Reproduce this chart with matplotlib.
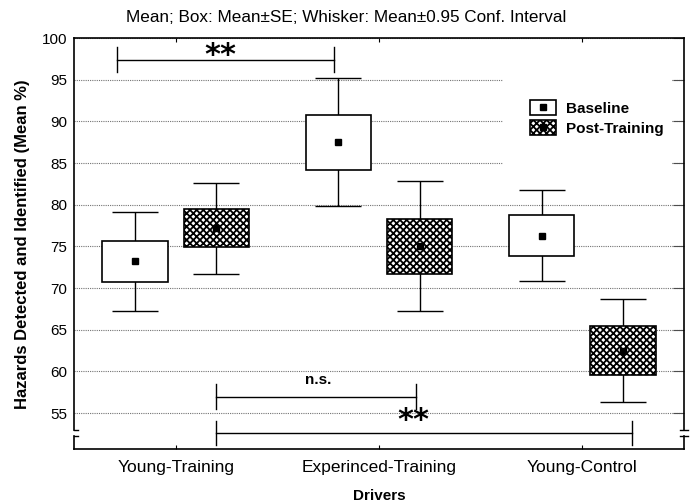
import numpy as np
import matplotlib
matplotlib.use("Agg")
import matplotlib.pyplot as plt
from matplotlib.patches import Rectangle
from matplotlib.lines import Line2D

plt.rcParams['font.family'] = ['Liberation Sans', 'DejaVu Sans']
plt.rcParams['hatch.linewidth'] = 1.3

#######################################################
GROUPS = ['Young-Training', 'Experinced-Training', 'Young-Control']
SERIES = ['Baseline', 'Post-Training']
BASE_MEAN = [73.2, 87.5, 76.3]
BASE_SE = [2.45, 3.3, 2.5]
BASE_CI = [5.95, 7.7, 5.5]
POST_MEAN = [77.2, 75.0, 62.5]
POST_SE = [2.25, 3.3, 2.95]
POST_CI = [5.45, 7.8, 6.2]

# significance brackets: (x0, x1, y, tick_top, tick_bottom, label, label_x, label_y)
BRACKETS = [
    (-0.29, 0.78, 97.36, 98.96, 95.96, '**', 0.22, 97.85),
    (0.20, 1.18, 56.96, 58.48, 55.44, 'n.s.', 0.70, 58.1),
    (0.20, 2.245, 52.64, 54.07, 51.16, '**', 1.17, 54.1),
]
YTICKS = [55, 60, 65, 70, 75, 80, 85, 90, 95, 100]
YLIM = (50.7, 100)
BREAK = (52.25, 53.0)
#######################################################

OFFSET = 0.2
BOX_W = 0.32

fig = plt.figure(figsize=(6.93, 5.04), dpi=100)
ax = fig.add_axes([74 / 693, 55 / 504, 610 / 693, 411 / 504])

x = np.arange(len(GROUPS))
series = [(BASE_MEAN, BASE_SE, BASE_CI, None, -OFFSET),
          (POST_MEAN, POST_SE, POST_CI, 'xxxxx', OFFSET)]

handles = []
for (mean, se, ci, hatch, off), name in zip(series, SERIES):
    mean = np.array(mean)
    se = np.array(se)
    ci = np.array(ci)
    pos = x + off
    ax.errorbar(pos, mean, yerr=ci, fmt='none', ecolor='black', elinewidth=1.0,
                capsize=16.5, capthick=1.0, zorder=2)
    ax.bar(pos, 2 * se, bottom=mean - se, width=BOX_W, facecolor='white',
           edgecolor='black', linewidth=1.2, hatch=hatch, zorder=3)
    ax.plot(pos, mean, linestyle='none', marker='s', markersize=5,
            color='black', zorder=4)
    patch = Rectangle((0, 0), 1, 1, facecolor='white', edgecolor='black',
                      linewidth=1.2, hatch=hatch)
    mark = Line2D([], [], linestyle='none', marker='s', markersize=5, color='black')
    handles.append((patch, mark))

# brackets
for x0, x1, y, t_top, t_bot, label, lx, ly in BRACKETS:
    ax.plot([x0, x1], [y, y], color='black', lw=1.0, zorder=5)
    ax.plot([x0, x0], [t_bot, t_top], color='black', lw=1.0, zorder=5)
    ax.plot([x1, x1], [t_bot, t_top], color='black', lw=1.0, zorder=5)
    if label == '**':
        ax.text(lx, ly, label, ha='center', va='center', fontsize=22,
                fontweight='bold', family='DejaVu Sans', zorder=6)
    else:
        ax.text(lx, ly, label, ha='center', va='bottom', fontsize=11,
                fontweight='bold', zorder=6)

ax.set_xlim(-0.5, 2.5)
ax.set_ylim(*YLIM)
ax.set_yticks(YTICKS)
ax.set_xticks(x)
ax.set_xticklabels(GROUPS, fontsize=12.5)
ax.tick_params(axis='y', labelsize=11, left=False, right=True, direction='in',
               length=8, color='0.3', pad=5)
ax.tick_params(axis='x', top=True, direction='in', length=3, pad=8)
ax.set_axisbelow(True)
ax.yaxis.grid(True, linestyle=(0, (1, 1)), color='0.45', lw=0.8)

# white area behind the legend hides the grid
ax.add_patch(Rectangle((0.703, 0.684), 0.277, 0.226, transform=ax.transAxes,
                       facecolor='white', edgecolor='none', zorder=1))
leg = ax.legend(handles, SERIES, loc='upper left', bbox_to_anchor=(0.748, 0.848),
                frameon=False, prop={'weight': 'bold', 'size': 11},
                handlelength=1.7, handleheight=1.05, handletextpad=0.65,
                labelspacing=0.3, borderpad=0, borderaxespad=0)

# spines with a break at the bottom
for s in ['left', 'right']:
    ax.spines[s].set_visible(False)
for s in ['top', 'bottom']:
    ax.spines[s].set_linewidth(1.2)
tr = ax.get_yaxis_transform()
lo, hi = BREAK
for xs in [0, 1]:
    ax.plot([xs, xs], [hi, YLIM[1]], transform=tr, color='black', lw=1.2, clip_on=False, zorder=7)
    ax.plot([xs, xs], [YLIM[0], lo], transform=tr, color='black', lw=1.2, clip_on=False, zorder=7)
ax.plot([0, 0.007], [hi, hi], transform=tr, color='black', lw=1.0, clip_on=False)
ax.plot([0, 0.007], [lo, lo], transform=tr, color='black', lw=1.0, clip_on=False)
ax.plot([0.994, 1.006], [hi, hi], transform=tr, color='black', lw=1.0, clip_on=False)
ax.plot([0.994, 1.006], [lo, lo], transform=tr, color='black', lw=1.0, clip_on=False)

ax.set_xlabel('Drivers', fontsize=11, fontweight='bold', labelpad=10)
fig.text(23 / 693, 1 - 244 / 504, 'Hazards Detected and Identified (Mean %)',
         rotation=90, ha='center', va='center', fontsize=12, fontweight='bold')
fig.text(0.5, 1 - 18 / 504, 'Mean; Box: Mean\u00b1SE; Whisker: Mean\u00b10.95 Conf. Interval',
         ha='center', va='center', fontsize=12.3)

fig.savefig('out.png', dpi=100)
